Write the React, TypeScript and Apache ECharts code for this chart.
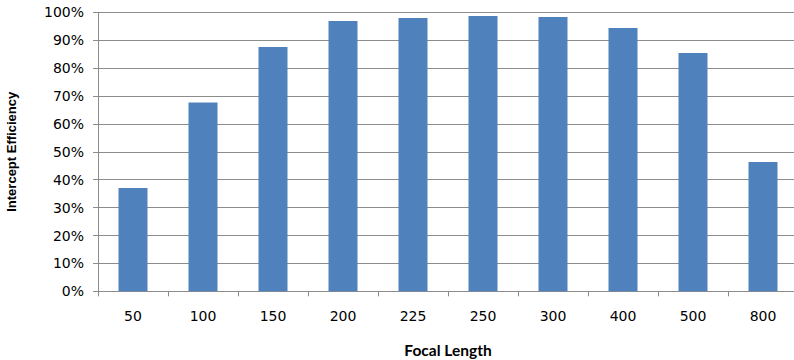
import React, { useEffect, useRef } from "react";
import * as echarts from "echarts";

const focalLengths = ["50", "100", "150", "200", "225", "250", "300", "400", "500", "800"];
const interceptEfficiency = [37.0, 67.7, 87.6, 96.9, 98.0, 98.7, 98.3, 94.4, 85.4, 46.3];
const yTicks = [0, 10, 20, 30, 40, 50, 60, 70, 80, 90, 100];

const GRID_COLOR = "#8c8c8c";
const BAR_COLOR = "#4f81bd";

export default function App() {
  const ref = useRef<HTMLDivElement>(null);

  useEffect(() => {
    if (!ref.current) return;
    const chart = echarts.init(ref.current, undefined, { renderer: "svg" });
    chart.setOption({
      animation: false,
      backgroundColor: "#ffffff",
      grid: {
        left: 98,
        top: 12.3,
        width: 700,
        height: 279,
        containLabel: false,
        outerBoundsMode: "none",
      },
      xAxis: {
        type: "category",
        data: focalLengths,
        name: "Focal Length",
        nameLocation: "middle",
        nameGap: 51,
        nameTextStyle: {
          fontFamily: "Lato",
          fontWeight: "bold",
          fontSize: 15.5,
          color: "#000",
        },
        axisLine: { lineStyle: { color: GRID_COLOR, width: 1 } },
        axisTick: { show: true, length: 5, lineStyle: { color: GRID_COLOR } },
        axisLabel: {
          margin: 18,
          fontFamily: "DejaVu Sans",
          fontSize: 14,
          color: "#000",
        },
      },
      yAxis: {
        type: "value",
        min: yTicks[0],
        max: yTicks[yTicks.length - 1],
        interval: 10,
        name: "Intercept Efficiency",
        nameLocation: "middle",
        nameGap: 80,
        nameTextStyle: {
          fontFamily: "Liberation Sans",
          fontWeight: "bold",
          fontSize: 13,
          color: "#000",
        },
        axisLine: { show: true, lineStyle: { color: GRID_COLOR, width: 1 } },
        axisTick: { show: true, length: 5, lineStyle: { color: GRID_COLOR } },
        splitLine: { show: true, lineStyle: { color: GRID_COLOR, width: 1 } },
        axisLabel: {
          margin: 14,
          fontFamily: "DejaVu Sans",
          fontSize: 14,
          color: "#000",
          formatter: (v: number) => `${v}%`,
        },
      },
      series: [
        {
          type: "bar",
          data: interceptEfficiency,
          barWidth: 29,
          itemStyle: { color: BAR_COLOR },
        },
      ],
    });
    return () => chart.dispose();
  }, []);

  return (
    <div
      ref={ref}
      style={{ position: "fixed", left: 0, top: 0, width: 794, height: 360, background: "#fff" }}
    />
  );
}
